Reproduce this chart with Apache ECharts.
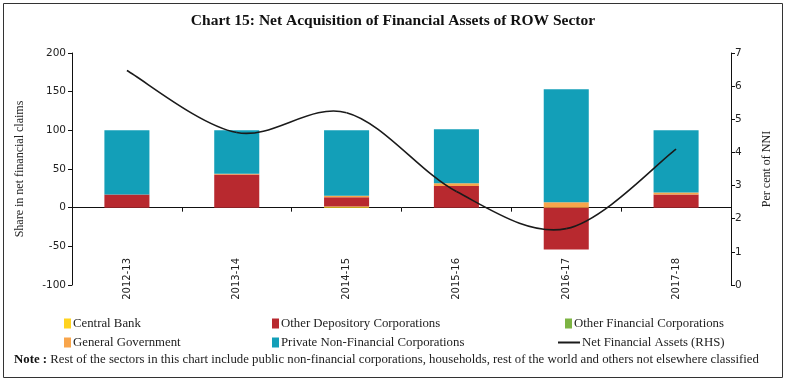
<!DOCTYPE html>
<html><head><meta charset="utf-8">
<script src="https://cdn.jsdelivr.net/npm/echarts@6/dist/echarts.min.js"></script>
<style>html,body{margin:0;padding:0;background:#fff}#c{width:786px;height:383px}</style>
</head><body><div id="c"></div>
<script>
const categories = ['2012-13','2013-14','2014-15','2015-16','2016-17','2017-18'];
const centralBank = [0, 0, 1.5, 0, 0, 0];
const otherDepository = [17, 43, 12, 28, -54, 17];
const otherFinancial = [0, 0, 0, 0, 0, 0];
const generalGovt = [0, 1, 2, 3.5, 7, 2.5];
const privateNonFin = [83, 56, 84.5, 70, 146, 80.5];
const netFinancialAssets = [6.47, 4.6, 5.2, 2.82, 1.7, 4.1];
const leftTicks = [-100, -50, 0, 50, 100, 150, 200];
const rightTicks = [0, 1, 2, 3, 4, 5, 6, 7];

const serif = '"Liberation Serif", "DejaVu Serif", serif';
const sans = '"DejaVu Sans", sans-serif';
const colors = {cb:'#FFD31F', odc:'#B8292F', ofc:'#7DB443', gg:'#F8A54B', pnfc:'#139FB8', line:'#1a1a1a'};

function bar(name, data, color){
  return {name, type:'bar', stack:'s', data, barWidth:'41%', itemStyle:{color}, emphasis:{disabled:true}};
}
function leg(name, left, top, isLine){
  return {data:[name], left, top, itemGap:0, itemWidth:isLine?22:7, itemHeight:isLine?2:10,
    icon:'rect', selectedMode:false, textStyle:{fontFamily:serif, fontSize:12.8, color:'#222', padding:[0,0,0,-3]}};
}
// smooth (Catmull-Rom style) line drawn through the axis scales
function renderSmooth(params, api){
  if (params.dataIndex !== 0) return null;
  const pts = netFinancialAssets.map((v, i) => api.coord([i, v]));
  const n = pts.length;
  const children = [];
  for (let i = 0; i < n - 1; i++){
    const p0 = pts[Math.max(i - 1, 0)], p1 = pts[i], p2 = pts[i + 1], p3 = pts[Math.min(i + 2, n - 1)];
    children.push({type:'bezierCurve', shape:{
      x1:p1[0], y1:p1[1], x2:p2[0], y2:p2[1],
      cpx1:p1[0] + (p2[0] - p0[0]) / 6, cpy1:p1[1] + (p2[1] - p0[1]) / 6,
      cpx2:p2[0] - (p3[0] - p1[0]) / 6, cpy2:p2[1] - (p3[1] - p1[1]) / 6},
      style:{fill:'none', stroke:colors.line, lineWidth:1.6}});
  }
  return {type:'group', children};
}
const chart = echarts.init(document.getElementById('c'));
chart.setOption({
  animation:false,
  title:{text:'Chart 15: Net Acquisition of Financial Assets of ROW Sector', left:'center', top:8,
    textStyle:{fontFamily:serif, fontSize:15.5, fontWeight:'bold', color:'#111'}},
  grid:{left:72, right:55, top:53, bottom:98, containLabel:false},
  legend:[
    leg('Central Bank', 59, 312),
    leg('Other Depository Corporations', 267, 312),
    leg('Other Financial Corporations', 560, 312),
    leg('General Government', 59, 331),
    leg('Private Non-Financial Corporations', 267, 331),
    leg('Net Financial Assets (RHS)', 553, 331, true)
  ],
  xAxis:{type:'category', data:categories,
    axisLine:{onZero:true, lineStyle:{color:'#111', width:1}},
    axisTick:{show:true, length:4, alignWithLabel:false, lineStyle:{color:'#111'}},
    axisLabel:{rotate:90, margin:-27, fontFamily:sans, fontSize:10, color:'#222'}},
  yAxis:[
    {type:'value', min:-100, max:200, interval:50, position:'left',
     name:'Share in net financial claims', nameLocation:'middle', nameGap:46,
     nameTextStyle:{fontFamily:serif, fontSize:12, color:'#222'},
     axisLine:{show:true, lineStyle:{color:'#111'}}, axisTick:{show:true, length:4, lineStyle:{color:'#111'}},
     splitLine:{show:false}, axisLabel:{fontFamily:sans, fontSize:10.5, color:'#222', margin:6}},
    {type:'value', min:0, max:7, interval:1, position:'right',
     name:'Per cent of NNI', nameLocation:'middle', nameGap:30,
     nameTextStyle:{fontFamily:serif, fontSize:12, color:'#222'},
     axisLine:{show:true, lineStyle:{color:'#111'}}, axisTick:{show:true, length:4, lineStyle:{color:'#111'}},
     splitLine:{show:false}, axisLabel:{fontFamily:sans, fontSize:10.5, color:'#222', margin:4}}
  ],
  series:[
    bar('Central Bank', centralBank, colors.cb),
    bar('Other Depository Corporations', otherDepository, colors.odc),
    bar('Other Financial Corporations', otherFinancial, colors.ofc),
    bar('General Government', generalGovt, colors.gg),
    bar('Private Non-Financial Corporations', privateNonFin, colors.pnfc),
    {name:'Net Financial Assets (RHS)', type:'custom', yAxisIndex:1,
     data:netFinancialAssets.map((v, i) => [i, v]), renderItem:renderSmooth,
     itemStyle:{color:colors.line}, encode:{x:0, y:1}, clip:false, z:5, silent:true}
  ],
  graphic:[
    {type:'rect', shape:{x:3.5, y:3.5, width:779, height:374}, style:{fill:'none', stroke:'#333', lineWidth:1}, silent:true},
    {type:'text', left:14, top:353, style:{
      text:'{b|Note :} Rest of the sectors in this chart include public non-financial corporations, households, rest of the world and others not elsewhere classified',
      fontFamily:serif, fontSize:12.8, fill:'#222',
      rich:{b:{fontWeight:'bold', fontFamily:serif, fontSize:12.8, fill:'#111'}}}}
  ]
});
</script></body></html>
